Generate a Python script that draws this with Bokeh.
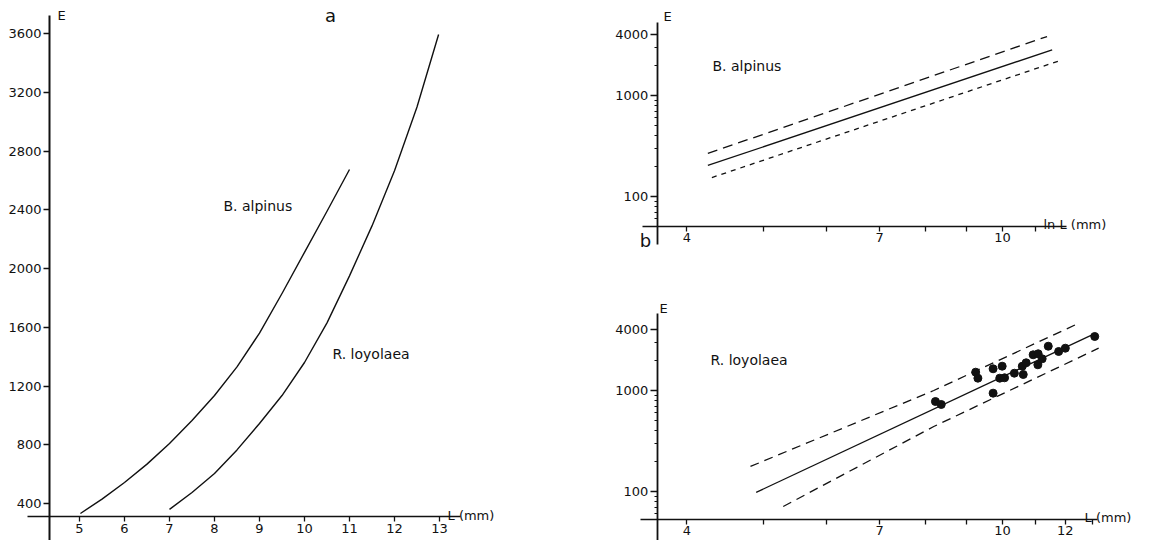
from bokeh.plotting import figure
from bokeh.models import FixedTicker, Label, Range1d
from bokeh.layouts import row, column
from bokeh.embed import file_html
from bokeh.resources import INLINE

# ---------------- data ----------------
# panel a: E vs L (linear)
ba_L = [5.02, 5.5, 6, 6.5, 7, 7.5, 8, 8.5, 9, 9.5, 10, 10.5, 11.0]
ba_E = [332, 430, 543, 668, 808, 965, 1135, 1330, 1560, 1830, 2110, 2390, 2674]
rl_L = [7, 7.5, 8, 8.5, 9, 9.5, 10, 10.5, 11, 11.5, 12, 12.5, 12.98]
rl_E = [360, 475, 604, 765, 945, 1135, 1360, 1630, 1950, 2290, 2665, 3100, 3593]
a_xticks = [5, 6, 7, 8, 9, 10, 11, 12, 13]
a_yticks = [400, 800, 1200, 1600, 2000, 2400, 2800, 3200, 3600]

# panel b top: B. alpinus log-log regression with limits
bt_fit_L = [4.25, 11.55]
bt_fit_E = [203, 2834]
bt_up_L = [4.25, 11.38]
bt_up_E = [267, 3837]
bt_lo_L = [4.30, 11.89]
bt_lo_E = [154, 2255]

# panel b bottom: R. loyolaea log-log regression, limits and observations
bb_fit_L = [4.89, 12.97]
bb_fit_E = [98, 3560]
bb_up_L = [4.81, 8.19, 12.48]
bb_up_E = [177, 1000, 4637]
bb_lo_L = [5.29, 8.19, 13.22]
bb_lo_E = [71, 440, 2623]
obs_L = [8.23, 8.37, 9.25, 9.31, 9.73, 9.99, 9.73, 9.92, 10.06, 10.35, 10.62,
         10.59, 10.71, 10.93, 11.09, 11.08, 11.22, 11.42, 11.77, 12.00, 13.07]
obs_E = [778, 727, 1518, 1324, 1640, 1740, 941, 1324, 1336, 1483, 1440,
         1740, 1881, 2257, 2309, 1797, 2060, 2745, 2433, 2623, 3425]

top_xticks = [4, 5, 6, 7, 8, 9, 10, 11]
top_xlabels = {4: "4", 7: "7", 10: "10"}
bot_xticks = [4, 5, 6, 7, 8, 9, 10, 11, 12, 13]
bot_xlabels = {4: "4", 7: "7", 10: "10", 12: "12"}
log_yticks = [100, 1000, 4000]
log_ylabels = {100: "100", 1000: "1000", 4000: "4000"}
log_yminor = [60, 70, 80, 90, 200, 300, 400, 500, 600, 700, 800, 900, 2000, 3000]

FONT = "DejaVu Sans"
INK = "#111111"


def make_fig(w, h, xr, yr, xtype="linear", ytype="linear"):
    p = figure(width=w, height=h, x_range=Range1d(*xr), y_range=Range1d(*yr),
               x_axis_type=xtype, y_axis_type=ytype, output_backend="svg",
               toolbar_location=None, min_border=0)
    p.min_border_left = p.min_border_right = 0
    p.min_border_top = p.min_border_bottom = 0
    p.outline_line_color = None
    p.grid.visible = False
    p.background_fill_color = "white"
    p.border_fill_color = "white"
    return p


def style_axis(ax, loc, bounds, ticks, labels=None, minor=None, tick_out=5, width=1.5):
    ax.fixed_location = loc
    ax.bounds = bounds
    ax.ticker = FixedTicker(ticks=ticks, minor_ticks=minor or [])
    if labels is not None:
        ax.major_label_overrides = {t: labels.get(t, "") for t in ticks}
    ax.axis_line_color = INK
    ax.axis_line_width = width
    ax.major_tick_line_color = INK
    ax.major_tick_line_width = 1.3
    ax.major_tick_out = tick_out
    ax.major_tick_in = 0
    ax.minor_tick_line_color = INK
    ax.minor_tick_out = 3
    ax.minor_tick_in = 0
    ax.major_label_text_font = FONT
    ax.major_label_text_font_size = "13px"
    ax.major_label_text_color = INK
    ax.major_label_standoff = 2


def add_label(p, x, y, text, size="13px", align="left", baseline="middle"):
    p.add_layout(Label(x=x, y=y, text=text, text_font=FONT, text_font_size=size,
                       text_color=INK, text_align=align, text_baseline=baseline))


# ---------------- panel a ----------------
pa = make_fig(560, 540, (3.2444, 15.6889), (148.1, 3824.7))
style_axis(pa.yaxis[0], 4.3333, (148.1, 3722.6), a_yticks,
           {t: str(t) for t in a_yticks}, tick_out=6, width=2)
style_axis(pa.xaxis[0], 311.5, (3.8444, 13.467), a_xticks,
           {t: str(t) for t in a_xticks}, tick_out=5, width=1.5)
pa.line(ba_L, ba_E, line_color=INK, line_width=1.4, line_join="round")
pa.line(rl_L, rl_E, line_color=INK, line_width=1.4, line_join="round")
add_label(pa, 4.60, 3722.5, "E", align="center")
add_label(pa, 10.578, 3722.5, "a", size="18px", align="center")
add_label(pa, 8.2, 2428.9, "B. alpinus", size="14px")
add_label(pa, 10.622, 1414.5, "R. loyolaea", size="14px")
add_label(pa, 13.178, 318.3, "L (mm)", baseline="alphabetic")

# ---------------- panel b top ----------------
pt = make_fig(592, 270, (2.7706, 15.457), (18.5, 8722), "log", "log")
style_axis(pt.yaxis[0], 3.67, (33.5, 5283), log_yticks, log_ylabels,
           minor=log_yminor, tick_out=7, width=1.8)
style_axis(pt.xaxis[0], 50.47, (3.516, 12.04), top_xticks, top_xlabels,
           tick_out=5, width=1.5)
pt.line(bt_fit_L, bt_fit_E, line_color=INK, line_width=1.3)
pt.line(bt_up_L, bt_up_E, line_color=INK, line_width=1.3, line_dash="10 6")
pt.line(bt_lo_L, bt_lo_E, line_color=INK, line_width=1.3, line_dash="5 5")
add_label(pt, 3.780, 6057, "E", align="center")
add_label(pt, 4.308, 1937, "B. alpinus", size="14px")
add_label(pt, 11.262, 52.8, "ln L (mm)", baseline="alphabetic")
add_label(pt, 3.545, 36.7, "b", size="18px", align="center")

# ---------------- panel b bottom ----------------
pb = make_fig(592, 270, (2.7706, 15.457), (32.7, 15424), "log", "log")
style_axis(pb.yaxis[0], 3.67, (32.7, 5786), log_yticks, log_ylabels,
           minor=log_yminor, tick_out=7, width=1.8)
style_axis(pb.xaxis[0], 52.8, (3.496, 13.17), bot_xticks, bot_xlabels,
           tick_out=5, width=1.5)
pb.line(bb_fit_L, bb_fit_E, line_color=INK, line_width=1.3)
pb.line(bb_up_L, bb_up_E, line_color=INK, line_width=1.3, line_dash="9 6")
pb.line(bb_lo_L, bb_lo_E, line_color=INK, line_width=1.3, line_dash="9 6")
pb.scatter(obs_L, obs_E, size=8, color=INK)
add_label(pb, 3.737, 6485, "E", align="center")
add_label(pb, 4.283, 1982, "R. loyolaea", size="14px")
add_label(pb, 12.69, 55.3, "L (mm)", baseline="alphabetic")

layout = row(pa, column(pt, pb))
open("out.html", "w").write(file_html(layout, INLINE))
